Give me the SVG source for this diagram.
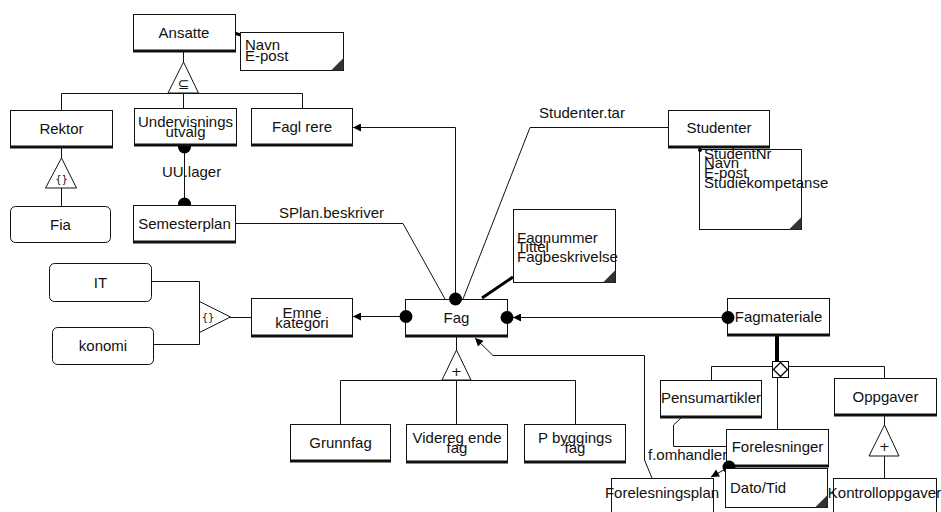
<svg xmlns="http://www.w3.org/2000/svg" width="941" height="512" viewBox="0 0 941 512">
<style>
.box{fill:#fff;stroke:#111;stroke-width:1}
.sh{stroke:#111;stroke-width:3}
.t{font-family:"Liberation Sans",Arial,sans-serif;font-size:15px;fill:#111;text-anchor:middle}
.tl{font-family:"Liberation Sans",Arial,sans-serif;font-size:15px;fill:#111}
.sym{font-family:"DejaVu Sans","Liberation Sans",sans-serif;fill:#111;text-anchor:middle}
.ln{fill:none;stroke:#111;stroke-width:1}
.dot{fill:#000}
.corner{fill:#333}
.tri{fill:#fff;stroke:#111;stroke-width:1}
</style>
<defs>
<marker id="arr" viewBox="0 0 10 10" refX="10" refY="5" markerUnits="userSpaceOnUse" markerWidth="9" markerHeight="8" orient="auto">
<path d="M0,0 L10,5 L0,10 z" fill="#000"/>
</marker>
</defs>

<g id="connectors">
<line class="ln" x1="183.5" y1="52" x2="183.5" y2="62"/>
<polyline class="ln" points="61.5,110 61.5,93.5 302.5,93.5 302.5,108"/>
<line class="ln" x1="183.5" y1="93" x2="183.5" y2="108"/>
<line x1="234" y1="33" x2="241" y2="35" stroke="#000" stroke-width="3"/>
<line class="ln" x1="61.5" y1="148" x2="61.5" y2="158"/>
<line class="ln" x1="61.5" y1="188" x2="61.5" y2="206"/>
<line class="ln" x1="184.5" y1="147" x2="184.5" y2="204"/>
<circle class="dot" cx="184.5" cy="147" r="6.5"/>
<circle class="dot" cx="184.5" cy="204" r="6.5"/>
<polyline class="ln" points="235,223.5 403,223.5 445,299"/>
<polyline class="ln" points="668,127.5 530,127.5 463,299"/>
<polyline class="ln" points="455.5,299 455.5,127.5 353,127.5" marker-end="url(#arr)"/>
<line x1="482" y1="298" x2="513" y2="277" stroke="#000" stroke-width="3"/>
<line class="ln" x1="406" y1="316.5" x2="353" y2="316.5" marker-end="url(#arr)"/>
<line class="ln" x1="230" y1="317.5" x2="251" y2="317.5"/>
<polyline class="ln" points="151,281.5 199.5,281.5 199.5,344.5 153,344.5"/>
<line class="ln" x1="456.5" y1="337" x2="456.5" y2="350"/>
<polyline class="ln" points="340.5,424 340.5,380.5 575.5,380.5 575.5,424"/>
<line class="ln" x1="456.5" y1="380" x2="456.5" y2="424"/>
<polyline class="ln" points="652,478 644.5,460 644.5,355.5 493,355.5 475,338" marker-end="url(#arr)"/>
<line class="ln" x1="728" y1="317.5" x2="513" y2="317.5" marker-end="url(#arr)"/>
<line x1="777" y1="336" x2="777" y2="361" stroke="#000" stroke-width="4"/>
<polyline class="ln" points="711.5,380 711.5,366.5 884.5,366.5 884.5,378"/>
<line class="ln" x1="777.5" y1="378" x2="777.5" y2="429"/>
<rect x="772.5" y="361.5" width="16" height="16" fill="#fff" stroke="#000" stroke-width="1"/>
<polygon points="780.5,362.5 787.5,369.5 780.5,376.5 773.5,369.5" fill="#fff" stroke="#000" stroke-width="1.3"/>
<line class="ln" x1="884.5" y1="416" x2="884.5" y2="425"/>
<line class="ln" x1="884.5" y1="456" x2="884.5" y2="478"/>
<polyline class="ln" points="681,418 673.5,425 673.5,446.5 726,446.5"/>
<line class="ln" x1="729" y1="467" x2="711" y2="477" marker-end="url(#arr)"/>
</g>

<g id="symbols">
<polygon class="tri" points="183.5,62 168,93 198.5,93"/>
<text class="sym" x="183.5" y="89" font-size="14">⊆</text>
<polygon class="tri" points="61.5,158 45.5,188 76.5,188"/>
<text class="sym" x="61.5" y="183" font-size="10">{}</text>
<polygon class="tri" points="199.5,301.5 199.5,332.5 230.5,317"/>
<text class="sym" x="208" y="321" font-size="10">{}</text>
<polygon class="tri" points="456.5,350 442,380 471,380"/>
<text class="sym" x="456.5" y="376" font-size="13">+</text>
<polygon class="tri" points="884.5,425 869,456 899,456"/>
<text class="sym" x="884.5" y="451" font-size="13">+</text>
</g>

<g id="labels">
<text class="tl" x="162" y="177">UU.lager</text>
<text class="tl" x="279" y="218">SPlan.beskriver</text>
<text class="tl" x="539" y="118">Studenter.tar</text>
<text class="tl" x="648" y="460">f.omhandler</text>
</g>

<g id="ansatte">
<rect class="box" x="133.5" y="14.5" width="102" height="37"/>
<line class="sh" x1="133" y1="51" x2="236" y2="51"/>
<text class="t" x="184" y="38">Ansatte</text>
</g>
<g id="ansatte-note">
<rect class="box" x="240.5" y="32.5" width="103" height="38"/>
<polygon class="corner" points="331,70.5 343.5,58 343.5,70.5"/>
<text class="tl" x="245" y="50">Navn</text>
<text class="tl" x="245" y="61">E-post</text>
</g>
<g id="rektor">
<rect class="box" x="10.5" y="110.5" width="102" height="37"/>
<line class="sh" x1="10" y1="147" x2="113" y2="147"/>
<text class="t" x="61.5" y="134">Rektor</text>
</g>
<g id="undervisningsutvalg">
<rect class="box" x="134.5" y="108.5" width="102" height="37"/>
<line class="sh" x1="134" y1="145" x2="237" y2="145"/>
<text class="t" x="185.5" y="127">Undervisnings</text>
<text class="t" x="185.5" y="137">utvalg</text>
</g>
<g id="faglaerere">
<rect class="box" x="251.5" y="108.5" width="101" height="37"/>
<line class="sh" x1="251" y1="145" x2="353" y2="145"/>
<text class="t" x="302" y="132">Fagl rere</text>
</g>
<g id="fia">
<rect class="box" x="10.5" y="206.5" width="100" height="36" rx="5"/>
<text class="t" x="60.5" y="230">Fia</text>
</g>
<g id="semesterplan">
<rect class="box" x="133.5" y="205.5" width="102" height="37"/>
<line class="sh" x1="133" y1="242" x2="236" y2="242"/>
<text class="t" x="184.5" y="229">Semesterplan</text>
</g>
<g id="studenter">
<rect class="box" x="668.5" y="110.5" width="101" height="37"/>
<line class="sh" x1="668" y1="147" x2="770" y2="147"/>
<text class="t" x="719" y="133">Studenter</text>
</g>
<g id="studenter-note">
<rect class="box" x="699.5" y="149.5" width="102" height="80"/>
<polygon class="corner" points="789,229.5 801.5,217 801.5,229.5"/>
<circle class="dot" cx="700" cy="150" r="2"/>
<text class="tl" x="704" y="159">StudentNr</text>
<text class="tl" x="704" y="168">Navn</text>
<text class="tl" x="704" y="178">E-post</text>
<text class="tl" x="704" y="188">Studiekompetanse</text>
</g>
<g id="fag-note">
<rect class="box" x="513.5" y="209.5" width="102" height="73"/>
<polygon class="corner" points="603,282.5 615.5,270 615.5,282.5"/>
<text class="tl" x="517" y="243">Fagnummer</text>
<text class="tl" x="517" y="252">Tittel</text>
<text class="tl" x="517" y="262">Fagbeskrivelse</text>
</g>
<g id="it">
<rect class="box" x="49.5" y="263.5" width="102" height="38" rx="5"/>
<text class="t" x="100.5" y="288">IT</text>
</g>
<g id="okonomi">
<rect class="box" x="52.5" y="327.5" width="101" height="37" rx="5"/>
<text class="t" x="103" y="351">konomi</text>
</g>
<g id="emnekategori">
<rect class="box" x="251.5" y="298.5" width="101" height="38"/>
<line class="sh" x1="251" y1="336" x2="353" y2="336"/>
<text class="t" x="302" y="318">Emne</text>
<text class="t" x="302" y="328">kategori</text>
</g>
<g id="fag">
<rect class="box" x="405.5" y="299.5" width="102" height="37"/>
<line class="sh" x1="405" y1="336" x2="508" y2="336"/>
<text class="t" x="456.5" y="323">Fag</text>
<circle class="dot" cx="455.5" cy="299" r="6.5"/>
<circle class="dot" cx="406" cy="316.5" r="6.5"/>
<circle class="dot" cx="507" cy="317.5" r="6.5"/>
</g>
<g id="fagmateriale">
<rect class="box" x="727.5" y="298.5" width="102" height="37"/>
<line class="sh" x1="727" y1="335" x2="830" y2="335"/>
<text class="t" x="778.5" y="322">Fagmateriale</text>
<circle class="dot" cx="728" cy="317.5" r="6.5"/>
</g>
<g id="grunnfag">
<rect class="box" x="290.5" y="424.5" width="100" height="37"/>
<line class="sh" x1="290" y1="461" x2="391" y2="461"/>
<text class="t" x="340.5" y="448">Grunnfag</text>
</g>
<g id="videregaende">
<rect class="box" x="406.5" y="424.5" width="101" height="38"/>
<line class="sh" x1="406" y1="462" x2="508" y2="462"/>
<text class="t" x="457" y="443">Videreg ende</text>
<text class="t" x="457" y="453">fag</text>
</g>
<g id="pabyggingsfag">
<rect class="box" x="524.5" y="424.5" width="101" height="38"/>
<line class="sh" x1="524" y1="462" x2="626" y2="462"/>
<text class="t" x="575" y="443">P byggings</text>
<text class="t" x="575" y="453">fag</text>
</g>
<g id="pensumartikler">
<rect class="box" x="660.5" y="380.5" width="101" height="37"/>
<line class="sh" x1="660" y1="417" x2="762" y2="417"/>
<text class="t" x="711" y="403">Pensumartikler</text>
</g>
<g id="oppgaver">
<rect class="box" x="834.5" y="378.5" width="102" height="37"/>
<line class="sh" x1="834" y1="415" x2="937" y2="415"/>
<text class="t" x="885.5" y="402">Oppgaver</text>
</g>
<g id="forelesninger">
<rect class="box" x="726.5" y="429.5" width="102" height="37"/>
<line class="sh" x1="726" y1="466" x2="829" y2="466"/>
<text class="t" x="777.5" y="452">Forelesninger</text>
<circle class="dot" cx="729" cy="467" r="6.5"/>
</g>
<g id="dato-note">
<rect class="box" x="725.5" y="468.5" width="102" height="39"/>
<polygon class="corner" points="815,507.5 827.5,495 827.5,507.5"/>
<text class="tl" x="730" y="493">Dato/Tid</text>
</g>
<g id="forelesningsplan">
<rect class="box" x="611.5" y="478.5" width="102" height="40"/>
<text class="t" x="662" y="498">Forelesningsplan</text>
</g>
<g id="kontrolloppgaver">
<rect class="box" x="833.5" y="478.5" width="103" height="40"/>
<text class="t" x="884.5" y="498">Kontrolloppgaver</text>
</g>
</svg>
